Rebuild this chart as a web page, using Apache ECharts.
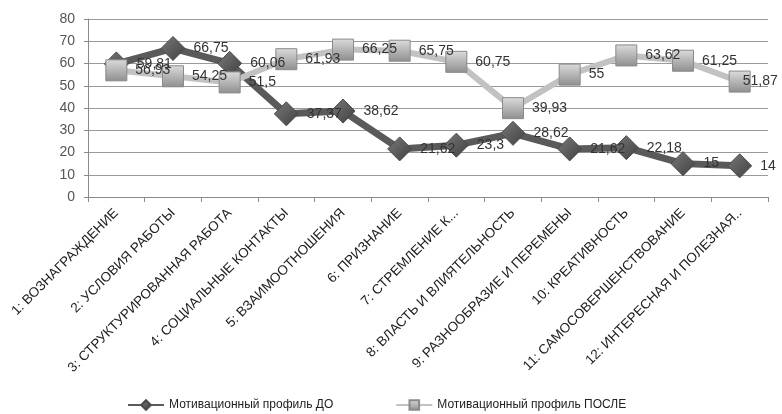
<!DOCTYPE html>
<html>
<head>
<meta charset="utf-8">
<script src="https://cdn.jsdelivr.net/npm/echarts@6/dist/echarts.min.js"></script>
<style>
  html, body { margin: 0; padding: 0; background: #fff; }
  #chart { width: 782px; height: 414px; }
</style>
</head>
<body>
<div id="chart"></div>
<script>
// Motivation profile factors (x-axis categories)
const categories = [
  '1: ВОЗНАГРАЖДЕНИЕ',
  '2: УСЛОВИЯ РАБОТЫ',
  '3: СТРУКТУРИРОВАННАЯ РАБОТА',
  '4: СОЦИАЛЬНЫЕ КОНТАКТЫ',
  '5: ВЗАИМООТНОШЕНИЯ',
  '6: ПРИЗНАНИЕ',
  '7: СТРЕМЛЕНИЕ К...',
  '8: ВЛАСТЬ И ВЛИЯТЕЛЬНОСТЬ',
  '9: РАЗНООБРАЗИЕ И ПЕРЕМЕНЫ',
  '10: КРЕАТИВНОСТЬ',
  '11: САМОСОВЕРШЕНСТВОВАНИЕ',
  '12: ИНТЕРЕСНАЯ И ПОЛЕЗНАЯ..'
];

// Profile before
const valuesBefore = [59.81, 66.75, 60.06, 37.37, 38.62, 21.62, 23.3, 28.62, 21.62, 22.18, 15, 14];
// Profile after
const valuesAfter = [56.93, 54.25, 51.5, 61.93, 66.25, 65.75, 60.75, 39.93, 55, 63.62, 61.25, 51.87];

const seriesNames = ['Мотивационный профиль ДО', 'Мотивационный профиль ПОСЛЕ'];
const yTicks = [0, 10, 20, 30, 40, 50, 60, 70, 80];

const FONT = 'Liberation Sans, DejaVu Sans, sans-serif';
const commaFmt = p => String(p.value).replace('.', ',');

// The last "after" label sits over its marker so it stays inside the canvas
const afterData = valuesAfter.map((v, i) =>
  i === valuesAfter.length - 1
    ? { value: v, label: { offset: [-16, 0] } }
    : v
);

const chart = echarts.init(document.getElementById('chart'), null, { renderer: 'canvas' });

chart.setOption({
  animation: false,
  backgroundColor: '#ffffff',
  grid: { left: 88, right: 14, top: 19, bottom: 217, containLabel: false },
  legend: {
    bottom: -2,
    left: 122,
    itemGap: 62,
    itemWidth: 36,
    itemHeight: 12,
    textStyle: { fontFamily: FONT, fontSize: 12, color: '#222' },
    data: seriesNames
  },
  xAxis: {
    type: 'category',
    data: categories,
    boundaryGap: true,
    axisLine: { lineStyle: { color: '#8a8a8a', width: 1 } },
    axisTick: { show: true, length: 5, lineStyle: { color: '#8a8a8a' } },
    axisLabel: {
      interval: 0,
      rotate: 45,
      margin: 14,
      fontFamily: FONT,
      fontSize: 13.5,
      color: '#222'
    }
  },
  yAxis: {
    type: 'value',
    min: yTicks[0],
    max: yTicks[yTicks.length - 1],
    interval: 10,
    axisLine: { show: true, lineStyle: { color: '#8a8a8a' } },
    axisTick: { show: true, length: 4, lineStyle: { color: '#8a8a8a' } },
    axisLabel: { fontFamily: FONT, fontSize: 14, color: '#555', margin: 13 },
    splitLine: { lineStyle: { color: '#9a9a9a', width: 1 } }
  },
  series: [
    {
      name: seriesNames[0],
      type: 'line',
      data: valuesBefore,
      symbol: 'diamond',
      symbolSize: [24, 24],
      lineStyle: { color: '#5a5a5a', width: 7 },
      itemStyle: {
        color: new echarts.graphic.LinearGradient(0, 0, 1, 1, [
          { offset: 0, color: '#7a7a7a' },
          { offset: 1, color: '#3f3f3f' }
        ]),
        borderColor: '#4a4a4a',
        borderWidth: 1
      },
      label: {
        show: true,
        position: 'right',
        distance: 8,
        formatter: commaFmt,
        fontFamily: FONT,
        fontSize: 14,
        color: '#333'
      }
    },
    {
      name: seriesNames[1],
      type: 'line',
      data: afterData,
      symbol: 'rect',
      symbolSize: 21,
      lineStyle: { color: '#c2c2c2', width: 6 },
      itemStyle: {
        color: new echarts.graphic.LinearGradient(0, 0, 0, 1, [
          { offset: 0, color: '#dcdcdc' },
          { offset: 1, color: '#8e8e8e' }
        ]),
        borderColor: '#8a8a8a',
        borderWidth: 1
      },
      label: {
        show: true,
        position: 'right',
        distance: 8,
        formatter: commaFmt,
        fontFamily: FONT,
        fontSize: 14,
        color: '#333'
      }
    }
  ]
});
</script>
</body>
</html>
